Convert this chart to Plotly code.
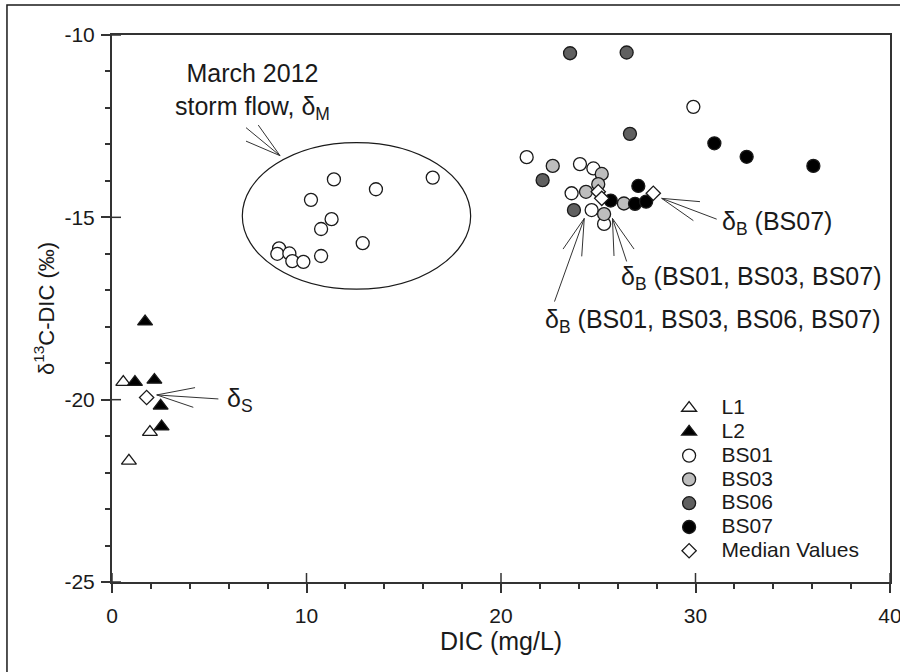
import plotly.graph_objects as go

# ---- data (DIC mg/L, d13C-DIC permil) ----
l1_x = [0.58, 1.95, 0.87]
l1_y = [-19.52, -20.89, -21.68]

l2_x = [1.70, 1.18, 2.18, 2.50, 2.55]
l2_y = [-17.86, -19.52, -19.46, -20.17, -20.74]

bs01_x = [11.41, 13.57, 16.49, 10.23, 11.29, 10.75, 12.89, 8.59, 8.50, 9.12, 9.27, 9.84, 10.75,
          21.32, 24.06, 24.75, 23.63, 24.66, 25.30, 29.89]
bs01_y = [-13.96, -14.23, -13.91, -14.52, -15.05, -15.32, -15.71, -15.85, -16.00, -15.99, -16.20, -16.22, -16.06,
          -13.35, -13.54, -13.66, -14.34, -14.80, -15.18, -11.97]

bs03_x = [22.66, 25.18, 25.00, 24.37, 26.32, 25.30]
bs03_y = [-13.59, -13.81, -14.09, -14.30, -14.62, -14.91]

bs06_x = [23.55, 26.46, 26.63, 22.14, 23.75]
bs06_y = [-10.50, -10.48, -12.71, -13.98, -14.80]

bs07_x = [30.97, 32.63, 36.06, 27.06, 25.64, 26.89, 27.46]
bs07_y = [-12.97, -13.34, -13.59, -14.14, -14.54, -14.63, -14.57]

med_x = [1.78, 25.00, 25.18, 27.83]
med_y = [-19.94, -14.30, -14.48, -14.34]

x_ticks = [0, 10, 20, 30, 40]
x_tick_text = ["0", "10", "20", "30", "40"]
y_ticks = [-25, -20, -15, -10]
y_tick_text = ["-25", "-20", "-15", "-10"]

FONT = "Liberation Sans, Arial, Helvetica, sans-serif"
INK = "#1a1a1a"
AX = "#333333"


def lg(name):
    return '<span style="font-size:21px">' + name + '</span>'


fig = go.Figure()
mline = dict(color=INK, width=1.3)
fig.add_trace(go.Scatter(x=l1_x, y=l1_y, mode="markers", name=lg("L1"),
                         marker=dict(symbol="triangle-up", size=13, color="white", line=mline)))
fig.add_trace(go.Scatter(x=l2_x, y=l2_y, mode="markers", name=lg("L2"),
                         marker=dict(symbol="triangle-up", size=13, color="black", line=mline)))
fig.add_trace(go.Scatter(x=bs01_x, y=bs01_y, mode="markers", name=lg("BS01"),
                         marker=dict(symbol="circle", size=13, color="white", line=mline)))
fig.add_trace(go.Scatter(x=bs03_x, y=bs03_y, mode="markers", name=lg("BS03"),
                         marker=dict(symbol="circle", size=13, color="#bdbdbd", line=mline)))
fig.add_trace(go.Scatter(x=bs06_x, y=bs06_y, mode="markers", name=lg("BS06"),
                         marker=dict(symbol="circle", size=13, color="#606060", line=mline)))
fig.add_trace(go.Scatter(x=bs07_x, y=bs07_y, mode="markers", name=lg("BS07"),
                         marker=dict(symbol="circle", size=13, color="black", line=mline)))
fig.add_trace(go.Scatter(x=med_x, y=med_y, mode="markers", name=lg("Median Values"),
                         marker=dict(symbol="diamond", size=11, color="white", line=mline)))

shapes = []
# inward halves of the major ticks (major ticks cross the axis line)
for xv in x_ticks:
    shapes.append(dict(type="line", xref="x", yref="paper", x0=xv, x1=xv, y0=0, y1=9 / 547,
                       line=dict(color=AX, width=1.5)))
for yv in y_ticks:
    shapes.append(dict(type="line", xref="paper", yref="y", x0=0, x1=9 / 778, y0=yv, y1=yv,
                       line=dict(color=AX, width=1.5)))

# ellipse around storm flow samples
shapes.append(dict(type="circle", xref="x", yref="y", x0=6.70, x1=18.44, y0=-16.97, y1=-12.95,
                   line=dict(color=INK, width=1.2)))


def fan(tip, ends):
    for e in ends:
        shapes.append(dict(type="line", xref="x", yref="y", x0=tip[0], y0=tip[1], x1=e[0], y1=e[1],
                           line=dict(color=AX, width=1)))


fan((8.64, -13.31), [(6.89, -12.54), (7.52, -12.47), (6.89, -12.91)])
fan((2.30, -19.87), [(4.27, -19.67), (5.47, -19.98), (4.18, -20.21)])
fan((28.26, -14.48), [(30.23, -14.57), (29.89, -15.09), (31.09, -15.05)])
fan((25.73, -15.03), [(25.81, -16.06), (26.46, -16.21), (26.84, -15.87)])
fan((24.28, -15.03), [(23.19, -15.87), (24.15, -16.07), (22.75, -17.31)])

# outer frame
shapes.append(dict(type="rect", xref="paper", yref="paper", x0=-0.135, x1=1.05, y0=-0.2, y1=1.0548,
                   line=dict(color=INK, width=1.5), fillcolor="rgba(0,0,0,0)", layer="above"))

afont = dict(family=FONT, size=25, color=INK)
annotations = [
    dict(x=7.2, y=-11.55, xref="x", yref="y", text="March 2012<br>storm flow, δ<sub>M</sub>",
         showarrow=False, xanchor="center", yanchor="middle", font=afont),
    dict(x=5.8, y=-20.0, xref="x", yref="y", text="δ<sub>S</sub>",
         showarrow=False, xanchor="left", yanchor="middle", font=afont),
    dict(x=31.25, y=-15.15, xref="x", yref="y", text="δ<sub>B</sub> (BS07)",
         showarrow=False, xanchor="left", yanchor="middle", font=afont),
    dict(x=26.05, y=-16.66, xref="x", yref="y", text="δ<sub>B</sub> (BS01, BS03, BS07)",
         showarrow=False, xanchor="left", yanchor="middle", font=afont),
    dict(x=22.15, y=-17.84, xref="x", yref="y", text="δ<sub>B</sub> (BS01, BS03, BS06, BS07)",
         showarrow=False, xanchor="left", yanchor="middle", font=afont),
]

tickfont = dict(family=FONT, size=21, color=INK)
common = dict(showgrid=False, zeroline=False, showline=True, linewidth=2, linecolor=AX,
              ticks="outside", ticklen=9, tickwidth=1.5, tickcolor=AX, tickfont=tickfont,
              automargin=False, tickmode="array", ticklabeloverflow="allow")

fig.update_layout(
    template="none",
    width=900, height=672,
    margin=dict(l=112, r=10, t=35, b=90),
    paper_bgcolor="white", plot_bgcolor="white",
    font=dict(family=FONT, color=INK),
    showlegend=True,
    legend=dict(x=0.700, y=0.349, xanchor="left", yanchor="top", bgcolor="rgba(0,0,0,0)",
                font=dict(family=FONT, size=16, color=INK), borderwidth=0, itemwidth=55),
    xaxis=dict(range=[0, 40], tickvals=x_ticks, ticktext=x_tick_text, mirror=True,
               minor=dict(dtick=2, tick0=0, ticks="outside", ticklen=5, tickwidth=1.5, tickcolor=AX),
               title=dict(text="DIC (mg/L)", font=dict(family=FONT, size=25, color=INK), standoff=6),
               ticklabelstandoff=5, **common),
    yaxis=dict(range=[-25, -10], tickvals=y_ticks, ticktext=y_tick_text, mirror=True,
               minor=dict(dtick=1, tick0=-25, ticks="outside", ticklen=5, tickwidth=1.5, tickcolor=AX),
               title=dict(text="δ<sup>13</sup>C-DIC (‰)", font=dict(family=FONT, size=22, color=INK), standoff=4),
               ticklabelstandoff=2, **common),
    shapes=shapes,
    annotations=annotations,
)

fig.write_html("out.html")
